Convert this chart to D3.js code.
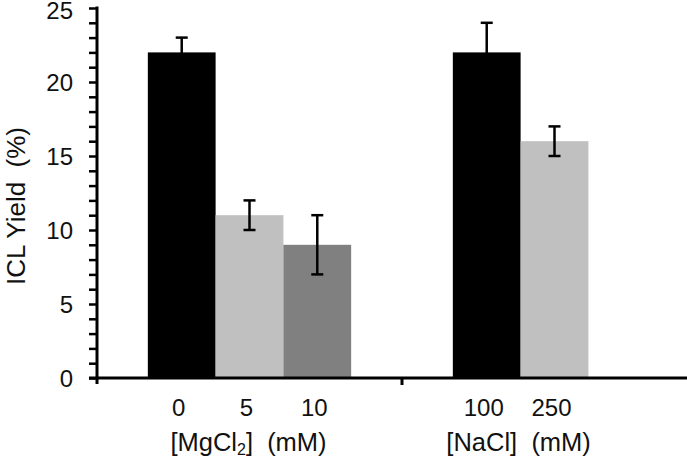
<!DOCTYPE html>
<html><head><meta charset="utf-8">
<script src="https://cdn.jsdelivr.net/npm/d3@7"></script>
<style>body{margin:0;background:#fff}text{font-family:"Liberation Sans",Arial,sans-serif;fill:#111}</style>
</head><body><svg id="c" width="687" height="459"></svg>
<script>
const groups = ["MgCl2", "NaCl"];
const mgLabels = ["0", "5", "10"];
const mgValues = [22, 11, 9];
const mgErrors = [1, 1, 2];
const naLabels = ["100", "250"];
const naValues = [22, 16];
const naErrors = [2, 1];
const seriesIdx = [0, 1, 2];
const seriesColors = ["#000000", "#c0c0c0", "#808080"];
const yTicks = [0, 5, 10, 15, 20, 25];
const yMinor = d3.range(0, 26, 1);

const svg = d3.select("#c");
const x0 = 97, x1 = 707, yTop = 8, yBot = 378;
const y = d3.scaleLinear().domain([0, 25]).range([yBot, yTop]);
const xg = d3.scaleBand().domain(groups).range([x0, x1]).padding(0);
const xs = d3.scaleBand().domain(seriesIdx).range([0, xg.bandwidth()]).paddingInner(0).paddingOuter(0.75);

const data = [];
mgValues.forEach((v, i) => data.push({g: groups[0], s: i, v, e: mgErrors[i], lab: mgLabels[i]}));
naValues.forEach((v, i) => data.push({g: groups[1], s: i, v, e: naErrors[i], lab: naLabels[i]}));
const bx = d => xg(d.g) + xs(d.s);
const bw = xs.bandwidth();

svg.selectAll("rect.bar").data(data).join("rect").attr("class", "bar")
  .attr("x", bx).attr("width", bw)
  .attr("y", d => y(d.v)).attr("height", d => y(0) - y(d.v))
  .attr("fill", d => seriesColors[d.s]);

// error bars
const eg = svg.selectAll("g.err").data(data).join("g").attr("class", "err")
  .attr("stroke", "#000").attr("stroke-width", 2.5);
eg.append("line").attr("x1", d => bx(d) + bw / 2).attr("x2", d => bx(d) + bw / 2)
  .attr("y1", d => y(d.v + d.e)).attr("y2", d => y(d.v - d.e));
eg.append("line").attr("x1", d => bx(d) + bw / 2 - 6).attr("x2", d => bx(d) + bw / 2 + 6)
  .attr("y1", d => y(d.v + d.e)).attr("y2", d => y(d.v + d.e));
eg.append("line").attr("x1", d => bx(d) + bw / 2 - 6).attr("x2", d => bx(d) + bw / 2 + 6)
  .attr("y1", d => y(d.v - d.e)).attr("y2", d => y(d.v - d.e));

// y axis
const ya = svg.append("g").attr("transform", `translate(${x0},0)`);
ya.call(d3.axisLeft(y).tickValues(yMinor).tickSize(8).tickFormat(""))
  .call(g => g.select(".domain").remove());
ya.selectAll(".tick line").attr("stroke", "#000").attr("stroke-width", 2.5);
svg.append("line").attr("x1", x0).attr("x2", x0).attr("y1", yTop - 1.5).attr("y2", yBot + 6)
  .attr("stroke", "#000").attr("stroke-width", 3);
svg.selectAll("text.yt").data(yTicks).join("text").attr("class", "yt")
  .attr("x", 73).attr("y", d => y(d)).attr("dy", d => d === 25 ? "0.46em" : "0.36em")
  .attr("text-anchor", "end").attr("font-size", 24).text(d => d);

// x axis
svg.append("line").attr("x1", x0 - 8).attr("x2", 687).attr("y1", yBot).attr("y2", yBot)
  .attr("stroke", "#000").attr("stroke-width", 3);
svg.selectAll("line.xt").data(groups.slice(1)).join("line").attr("class", "xt")
  .attr("x1", d => xg(d)).attr("x2", d => xg(d)).attr("y1", yBot).attr("y2", yBot + 7)
  .attr("stroke", "#000").attr("stroke-width", 3);

svg.selectAll("text.xl").data(data).join("text").attr("class", "xl")
  .attr("x", d => bx(d) + bw / 2 - 3).attr("y", 416)
  .attr("text-anchor", "middle").attr("font-size", 24).text(d => d.lab);

// group titles
const gc = g => {
  const ds = data.filter(d => d.g === g);
  return (bx(ds[0]) + bx(ds[ds.length - 1]) + bw) / 2;
};
const t1 = svg.append("text").attr("x", gc(groups[0]) - 1).attr("y", 451)
  .attr("text-anchor", "middle").attr("font-size", 25.5).attr("xml:space", "preserve");
t1.append("tspan").text("[MgCl");
t1.append("tspan").attr("font-size", 16).attr("dy", 4).text("2");
t1.append("tspan").attr("dy", -4).text("]  (mM)");
svg.append("text").attr("x", gc(groups[1]) - 2).attr("y", 451)
  .attr("text-anchor", "middle").attr("font-size", 25.5).attr("xml:space", "preserve")
  .text("[NaCl]  (mM)");

svg.append("text").attr("transform", "translate(25,206) rotate(-90)")
  .attr("text-anchor", "middle").attr("font-size", 26).attr("xml:space", "preserve")
  .text("ICL Yield  (%)");
</script></body></html>
